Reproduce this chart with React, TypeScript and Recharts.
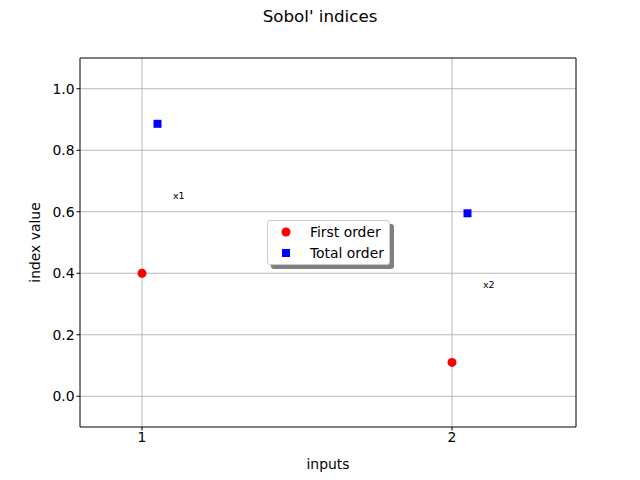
import React from 'react';
import { ScatterChart, Scatter, XAxis, YAxis, CartesianGrid, ReferenceArea } from 'recharts';

const inputs = [1, 2];
const inputNames = ['x1', 'x2'];
const firstOrder = [0.40, 0.11];
const totalOrder = [0.886, 0.595];
const xTicks = [1, 2];
const yTicks = [0, 0.2, 0.4, 0.6, 0.8, 1.0];
const seriesNames = ['First order', 'Total order'];

const firstData = inputs.map((x, i) => ({ x, y: firstOrder[i] }));
const totalData = inputs.map((x, i) => ({ x: x + 0.05, y: totalOrder[i] }));
const labelData = inputs.map((x, i) => ({ x: x + 0.1, y: (firstOrder[i] + totalOrder[i]) / 2, name: inputNames[i] }));

const FONT = 'DejaVu Sans, sans-serif';

const Circle = (p: any) => <circle cx={p.cx} cy={p.cy} r={4.5} fill="#ff0000" />;
const Square = (p: any) => <rect x={p.cx - 4} y={p.cy - 4} width={8} height={8} fill="#0000ff" />;
const TextMark = (p: any) => (
  <text x={p.cx} y={p.cy} fontSize={9.5} fontFamily={FONT} fill="#000">{p.payload.name}</text>
);

const LegendBox = () => (
  <div style={{ position: 'absolute', left: 267, top: 220, width: 123, height: 45, background: '#fff', border: '1px solid #ccc', borderRadius: 3, boxShadow: '4px 4px 0 #808080', boxSizing: 'border-box' }}>
    <svg width={123} height={45} style={{ position: 'absolute', left: 0, top: 0 }}>
      <circle cx={18} cy={11} r={4.5} fill="#ff0000" />
      <rect x={14} y={28} width={8} height={8} fill="#0000ff" />
      <text x={42} y={16} fontSize={13.9} fontFamily={FONT}>{seriesNames[0]}</text>
      <text x={42} y={37} fontSize={13.9} fontFamily={FONT}>{seriesNames[1]}</text>
    </svg>
  </div>
);

export default function App() {
  return (
    <div style={{ position: 'absolute', left: 0, top: 0, width: 640, height: 480, background: '#fff' }}>
      <ScatterChart width={640} height={480} margin={{ top: 58, right: 64, bottom: 23, left: 30 }}>
        <CartesianGrid stroke="#b0b0b0" strokeWidth={0.9} horizontalValues={yTicks} verticalValues={xTicks} />
        <XAxis type="number" dataKey="x" domain={[0.8, 2.4]} ticks={xTicks} allowDataOverflow
          height={30} tickSize={3.5} stroke="#000" tickLine={{ stroke: '#000' }} axisLine={false}
          tick={{ fill: '#000', fontSize: 13.9, fontFamily: FONT }}
          label={{ value: 'inputs', position: 'insideBottom', offset: -12, fill: '#000', fontSize: 13.9, fontFamily: FONT }} />
        <YAxis type="number" dataKey="y" domain={[-0.1, 1.1]} ticks={yTicks} allowDataOverflow
          width={50} tickSize={3.5} stroke="#000" tickLine={{ stroke: '#000' }} axisLine={false}
          tickFormatter={(v: number) => v.toFixed(1)}
          tick={{ fill: '#000', fontSize: 13.9, fontFamily: FONT }}
          label={{ value: 'index value', angle: -90, position: 'insideLeft', offset: 5, style: { textAnchor: 'middle' }, fill: '#000', fontSize: 13.9, fontFamily: FONT }} />
        <ReferenceArea x1={0.8} x2={2.4} y1={-0.1} y2={1.1} fill="none" stroke="#000" strokeWidth={1} ifOverflow="visible" />
        <Scatter name={seriesNames[0]} data={firstData} shape={Circle} isAnimationActive={false} />
        <Scatter name={seriesNames[1]} data={totalData} shape={Square} isAnimationActive={false} />
        <Scatter name="labels" data={labelData} shape={TextMark} isAnimationActive={false} legendType="none" />
        <text x={320} y={22} textAnchor="middle" fontSize={16.7} fontFamily={FONT} fill="#000">Sobol' indices</text>
      </ScatterChart>
      <LegendBox />
    </div>
  );
}
